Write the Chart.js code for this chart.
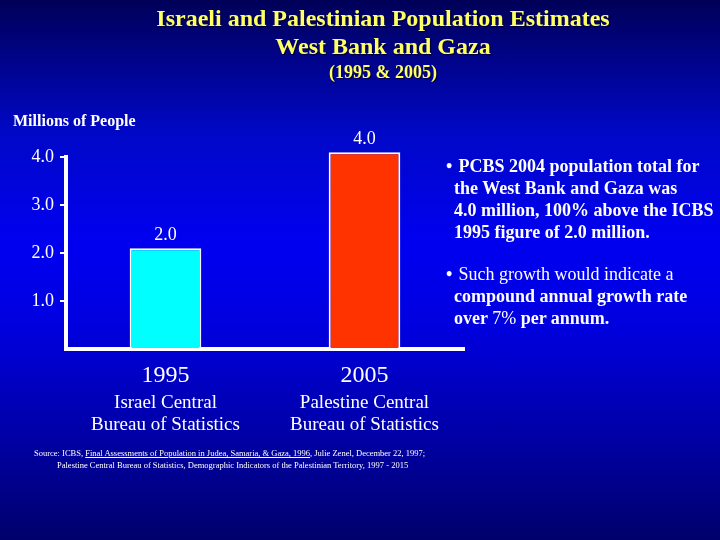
<!DOCTYPE html>
<html>
<head>
<meta charset="utf-8">
<script src="https://cdn.jsdelivr.net/npm/chart.js@4.4.0/dist/chart.umd.min.js"></script>
<style>
    body { margin: 0; }
    #slide {
        position: relative;
        width: 720px;
        height: 540px;
        overflow: hidden;
        font-family: "Liberation Serif", "DejaVu Serif", serif;
        background: linear-gradient(to bottom, #000058 0%, #0008c8 25%, #0000f0 45%, #0000e0 60%, #0000a8 80%, #00006c 100%);
    }
    #chartBox { position: absolute; left: 0; top: 0; width: 720px; height: 540px; }
    .txt { position: absolute; white-space: nowrap; }
    .title { color: #ffff66; font-weight: bold; text-align: center; left: 0; width: 766px; text-shadow: 1px 1px 1px #000030; }
    .note { color: #fff; font-weight: bold; font-size: 18px; line-height: 22px; left: 454px; }
    .note .bul { position: absolute; left: -8px; top: 0; }
    .note .thin { font-weight: normal; }
    .src { color: #fff; font-size: 8.5px; line-height: 12px; }
</style>
</head>
<body>
<div id="slide">
    <div id="chartBox"><canvas id="popChart"></canvas></div>
    <div class="txt title" style="top:5px; font-size:24px;">Israeli and Palestinian Population Estimates</div>
    <div class="txt title" style="top:33px; font-size:24px;">West Bank and Gaza</div>
    <div class="txt title" style="top:62px; font-size:18px;">(1995 &amp; 2005)</div>
    <div class="txt" style="left:13px; top:112px; color:#fff; font-size:16px; font-weight:bold;">Millions of People</div>
    <div class="txt note" style="top:155px;">
        <span class="bul">&bull;</span>&nbsp;PCBS 2004 population total for<br>the West Bank and Gaza was<br>4.0 million, 100% above the ICBS<br>1995 figure of 2.0 million.
    </div>
    <div class="txt note" style="top:263px;">
        <span class="bul">&bull;</span><span class="thin">&nbsp;Such growth would indicate a</span><br>compound annual growth rate<br>over <span class="thin">7%</span> per annum.
    </div>
    <div class="txt src" style="left:34px; top:447px;">Source: ICBS, <u>Final Assessments of Population in Judea, Samaria, &amp; Gaza, 1996</u>, Julie Zenel, December 22, 1997;</div>
    <div class="txt src" style="left:57px; top:459px;">Palestine Central Bureau of Statistics, Demographic Indicators of the Palestinian Territory, 1997 - 2015</div>
</div>
<script>
// Data
const years = ['1995', '2005'];
const sources = [['Israel Central', 'Bureau of Statistics'], ['Palestine Central', 'Bureau of Statistics']];
const population = [2.1, 4.1];          // bar heights as drawn
const valueLabels = ['2.0', '4.0'];     // labels printed above bars
const barColors = ['#00ffff', '#ff3300'];

// Value labels above bars
const valueLabelPlugin = {
    id: 'valueLabels',
    afterDatasetsDraw(chart) {
        const ctx = chart.ctx;
        const meta = chart.getDatasetMeta(0);
        ctx.save();
        ctx.fillStyle = '#ffffff';
        ctx.font = '18px "Liberation Serif", serif';
        ctx.textAlign = 'center';
        ctx.textBaseline = 'bottom';
        meta.data.forEach((bar, i) => {
            ctx.fillText(valueLabels[i], bar.x, bar.y - 4);
        });
        ctx.restore();
    }
};

const ctx = document.getElementById('popChart').getContext('2d');
new Chart(ctx, {
    type: 'bar',
    data: {
        labels: years,
        datasets: [{
            data: population,
            backgroundColor: barColors,
            borderColor: '#ffffff',
            borderWidth: 2,
            barPercentage: 0.36,
            categoryPercentage: 1,
            clip: false
        }]
    },
    options: {
        responsive: true,
        maintainAspectRatio: false,
        animation: false,
        layout: { padding: { top: 157, right: 256, bottom: 100, left: 0 } },
        plugins: {
            legend: { display: false },
            tooltip: { enabled: false }
        },
        scales: {
            x: {
                weight: 0,
                grid: { display: false, drawTicks: false },
                border: { display: true, color: '#ffffff', width: 4 },
                ticks: { color: '#ffffff', font: { family: 'Liberation Serif', size: 24 }, padding: 12 },
                afterFit: s => { s.height = 40; }
            },
            x2: {
                type: 'category',
                labels: sources,
                position: 'bottom',
                weight: 1,
                grid: { display: false, drawTicks: false },
                border: { display: false },
                ticks: { color: '#ffffff', font: { family: 'Liberation Serif', size: 19, lineHeight: 1.16 }, padding: 3 },
                afterFit: s => { s.height = 51; }
            },
            y: {
                min: 0,
                max: 4,
                grid: {
                    drawOnChartArea: false,
                    drawTicks: true,
                    tickLength: 6,
                    lineWidth: 2,
                    color: c => c.tick && c.tick.value === 0 ? 'rgba(0,0,0,0)' : '#ffffff'
                },
                border: { display: true, color: '#ffffff', width: 4 },
                ticks: {
                    stepSize: 1,
                    color: '#ffffff',
                    padding: 6,
                    font: { family: 'Liberation Serif', size: 18 },
                    callback: v => v === 0 ? '' : v.toFixed(1)
                },
                afterFit: s => { s.width = 66; }
            }
        }
    },
    plugins: [valueLabelPlugin]
});
</script>
</body>
</html>
